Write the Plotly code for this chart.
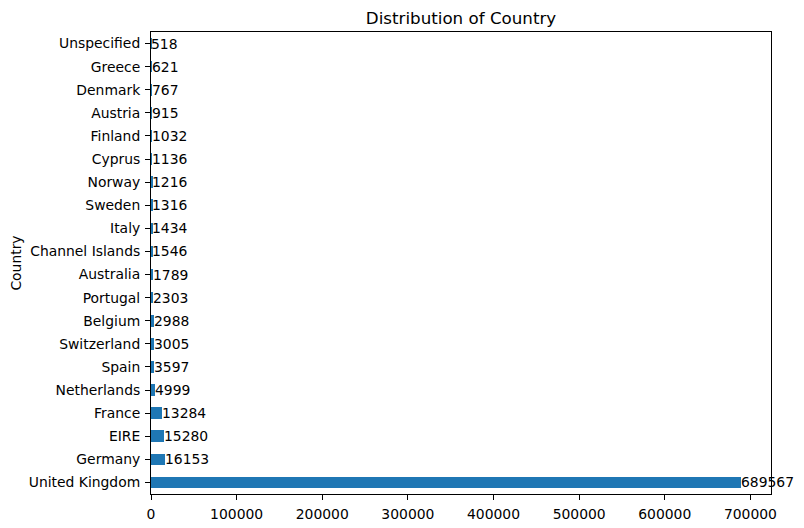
import plotly.graph_objects as go

countries = ["United Kingdom", "Germany", "EIRE", "France", "Netherlands", "Spain",
             "Switzerland", "Belgium", "Portugal", "Australia", "Channel Islands",
             "Italy", "Sweden", "Norway", "Cyprus", "Finland", "Austria", "Denmark",
             "Greece", "Unspecified"]
counts = [689567, 16153, 15280, 13284, 4999, 3597, 3005, 2988, 2303, 1789, 1546,
          1434, 1316, 1216, 1136, 1032, 915, 767, 621, 518]

font = "DejaVu Sans"
fs = 13.9

fig = go.Figure()
fig.add_trace(go.Bar(
    x=counts, y=countries, orientation="h", width=0.5,
    marker=dict(color="#1f77b4", line=dict(width=0)),
    showlegend=False, hoverinfo="x+y",
))

for c, v in zip(countries, counts):
    fig.add_annotation(x=v, y=c, text=str(v), xanchor="left", yanchor="middle",
                       showarrow=False, borderpad=0, xshift=-1,
                       font=dict(family=font, size=fs, color="black"))

fig.update_layout(
    width=804, height=528,
    margin=dict(l=151, r=33, t=32, b=34, autoexpand=False),
    paper_bgcolor="white", plot_bgcolor="white",
    font=dict(family=font, size=fs, color="black"),
    title=dict(text="Distribution of Country", x=0.5 * (151 + 771) / 804, xanchor="center",
               y=1 - 18 / 528, yanchor="middle", font=dict(family=font, size=16.7, color="black")),
    bargap=0,
)
fig.update_xaxes(
    range=[0, max(counts) * 1.05], dtick=100000, tick0=0, tickformat="d",
    showgrid=False, zeroline=False, showline=True, linecolor="black", linewidth=1,
    mirror=True, ticks="outside", ticklen=5, tickcolor="black", tickwidth=1,
    tickfont=dict(family=font, size=fs), automargin=False, ticklabelstandoff=2,
)
fig.update_yaxes(
    categoryorder="array", categoryarray=countries, range=[-0.5, 19.5],
    showgrid=False, zeroline=False, showline=True, linecolor="black", linewidth=1,
    mirror=True, ticks="outside", ticklen=5, tickcolor="black", tickwidth=1,
    tickfont=dict(family=font, size=fs), automargin=False, ticklabelstandoff=2,
    title=dict(text="Country", font=dict(family=font, size=fs), standoff=3),
)

fig.write_html("out.html")
